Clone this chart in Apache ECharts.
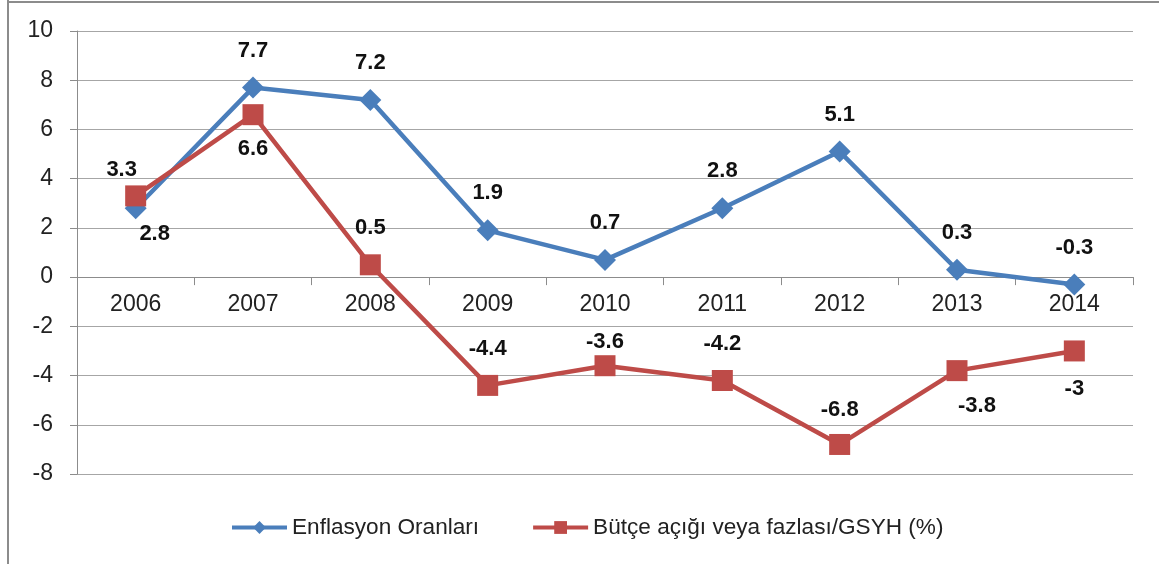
<!DOCTYPE html>
<html>
<head>
<meta charset="utf-8">
<script src="https://cdn.jsdelivr.net/npm/echarts@6/dist/echarts.min.js"></script>
<style>
  html, body { margin: 0; padding: 0; background: #fff; }
  #chart { width: 1159px; height: 564px; }
</style>
</head>
<body>
<div id="chart"></div>
<script>
// data
const years = ["2006", "2007", "2008", "2009", "2010", "2011", "2012", "2013", "2014"];
const inflation = [2.8, 7.7, 7.2, 1.9, 0.7, 2.8, 5.1, 0.3, -0.3];
const budget = [3.3, 6.6, 0.5, -4.4, -3.6, -4.2, -6.8, -3.8, -3];
const seriesNames = ["Enflasyon Oranları", "Bütçe açığı veya fazlası/GSYH (%)"];

// label placement (style only)
const blueLabelPos = ["bottom", "top", "top", "top", "top", "top", "top", "top", "top"];
const blueLabelDx = [19, 0, 0, 0, 0, 0, 0, 0, 0];
const redLabelPos = ["top", "bottom", "top", "top", "top", "top", "top", "bottom", "bottom"];
const redLabelDx = [-14, 0, 0, 0, 0, 0, 0, 20, 0];
const redLabelDist = [4, 13, 15, 15, 2, 15, 13, 14, 16];

const font = "Liberation Sans";
const blue = "#4a7ebb";
const red = "#be4b48";

const withLabels = (values, pos, dx, dist) =>
  values.map((v, i) => ({
    value: v,
    label: {
      position: pos[i],
      distance: dist ? dist[i] : (pos[i] === "top" ? 15 : 4),
      offset: [dx[i], 0]
    }
  }));

const chart = echarts.init(document.getElementById("chart"));
const option = {
  animation: false,
  textStyle: { fontFamily: font },
  grid: { left: 77, right: 26, top: 31, bottom: 90 },
  legend: {
    bottom: 20,
    left: 225,
    itemGap: 52,
    itemWidth: 55,
    itemHeight: 16,
    lineStyle: { width: 4 },
    textStyle: { fontFamily: font, fontSize: 22.6, color: "#222" },
    data: seriesNames
  },
  graphic: [
    { type: "line", shape: { x1: 8, y1: 0, x2: 8, y2: 564 }, style: { stroke: "#8c8c8c", lineWidth: 2 } },
    { type: "line", shape: { x1: 8, y1: 2, x2: 1159, y2: 2 }, style: { stroke: "#8c8c8c", lineWidth: 2 } }
  ],
  xAxis: {
    type: "category",
    data: years,
    boundaryGap: true,
    axisLine: { onZero: true, lineStyle: { color: "#8c8c8c", width: 1 } },
    axisTick: { show: true, length: 8, lineStyle: { color: "#8c8c8c" } },
    axisLabel: { fontSize: 23, color: "#222", margin: -181, fontFamily: font }
  },
  yAxis: {
    type: "value",
    min: -8,
    max: 10,
    interval: 2,
    axisLine: { show: true, lineStyle: { color: "#8c8c8c" } },
    axisTick: { show: true, length: 7, lineStyle: { color: "#8c8c8c" } },
    axisLabel: { fontSize: 23, color: "#222", margin: 24, fontFamily: font },
    splitLine: { lineStyle: { color: "#a6a6a6", width: 1 } }
  },
  series: [
    {
      name: seriesNames[0],
      type: "line",
      data: withLabels(inflation, blueLabelPos, blueLabelDx),
      symbol: "diamond",
      symbolSize: 22,
      color: blue,
      lineStyle: { width: 4.5, color: blue },
      itemStyle: { color: blue },
      label: { show: true, fontSize: 22, fontWeight: "bold", color: "#111", fontFamily: font }
    },
    {
      name: seriesNames[1],
      type: "line",
      data: withLabels(budget, redLabelPos, redLabelDx, redLabelDist),
      symbol: "rect",
      symbolSize: 21,
      color: red,
      lineStyle: { width: 4.5, color: red },
      itemStyle: { color: red },
      label: { show: true, fontSize: 22, fontWeight: "bold", color: "#111", fontFamily: font }
    }
  ]
};
chart.setOption(option);
</script>
</body>
</html>
